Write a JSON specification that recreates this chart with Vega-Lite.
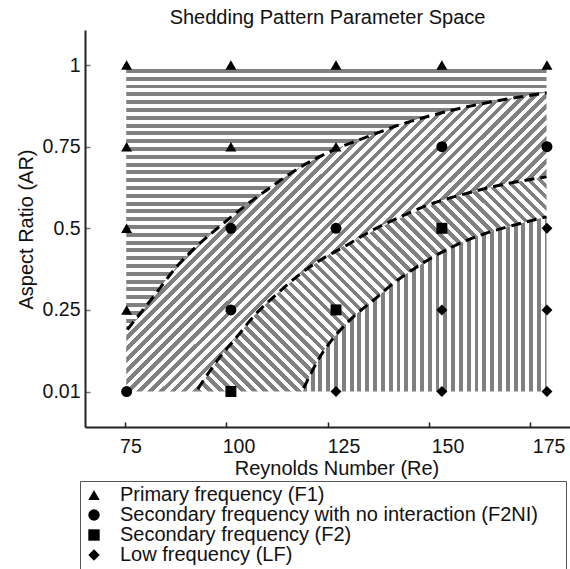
{
"$schema":"https://vega.github.io/schema/vega-lite/v6.json",
"width":485,"height":397,
"autosize":{"type":"none"},
"padding":{"left":85,"top":30,"right":0,"bottom":142},
"background":"white",
"config":{"view":{"stroke":null},"font":"Liberation Sans"},
"title":{"text":"Shedding Pattern Parameter Space","fontSize":20,"fontWeight":"normal","color":"#111","frame":"group","anchor":"middle","offset":2},
"datasets":{
"pts":[
{"Re":75.3,"lvl":4,"pattern":"Primary frequency (F1)"},
{"Re":101.1,"lvl":4,"pattern":"Primary frequency (F1)"},
{"Re":127.1,"lvl":4,"pattern":"Primary frequency (F1)"},
{"Re":153.3,"lvl":4,"pattern":"Primary frequency (F1)"},
{"Re":179.3,"lvl":4,"pattern":"Primary frequency (F1)"},
{"Re":75.3,"lvl":3,"pattern":"Primary frequency (F1)"},
{"Re":101.1,"lvl":3,"pattern":"Primary frequency (F1)"},
{"Re":127.1,"lvl":3,"pattern":"Primary frequency (F1)"},
{"Re":153.3,"lvl":3,"pattern":"Secondary frequency with no interaction (F2NI)"},
{"Re":179.3,"lvl":3,"pattern":"Secondary frequency with no interaction (F2NI)"},
{"Re":75.3,"lvl":2,"pattern":"Primary frequency (F1)"},
{"Re":101.1,"lvl":2,"pattern":"Secondary frequency with no interaction (F2NI)"},
{"Re":127.1,"lvl":2,"pattern":"Secondary frequency with no interaction (F2NI)"},
{"Re":153.3,"lvl":2,"pattern":"Secondary frequency (F2)"},
{"Re":179.3,"lvl":2,"pattern":"Low frequency (LF)"},
{"Re":75.3,"lvl":1,"pattern":"Primary frequency (F1)"},
{"Re":101.1,"lvl":1,"pattern":"Secondary frequency with no interaction (F2NI)"},
{"Re":127.1,"lvl":1,"pattern":"Secondary frequency (F2)"},
{"Re":153.3,"lvl":1,"pattern":"Low frequency (LF)"},
{"Re":179.3,"lvl":1,"pattern":"Low frequency (LF)"},
{"Re":75.3,"lvl":0,"pattern":"Secondary frequency with no interaction (F2NI)"},
{"Re":101.1,"lvl":0,"pattern":"Secondary frequency (F2)"},
{"Re":127.1,"lvl":0,"pattern":"Low frequency (LF)"},
{"Re":153.3,"lvl":0,"pattern":"Low frequency (LF)"},
{"Re":179.3,"lvl":0,"pattern":"Low frequency (LF)"}
],
"bounds":[
{"curve":"c1","Re":75.5,"lvl":0.76},{"curve":"c1","Re":81.9,"lvl":1.16},{"curve":"c1","Re":87.7,"lvl":1.53},{"curve":"c1","Re":93.5,"lvl":1.82},{"curve":"c1","Re":98.5,"lvl":2.03},{"curve":"c1","Re":104.2,"lvl":2.26},{"curve":"c1","Re":110,"lvl":2.47},{"curve":"c1","Re":118.3,"lvl":2.75},{"curve":"c1","Re":126.5,"lvl":2.96},{"curve":"c1","Re":134.8,"lvl":3.12},{"curve":"c1","Re":143,"lvl":3.27},{"curve":"c1","Re":151.3,"lvl":3.39},{"curve":"c1","Re":159.6,"lvl":3.49},{"curve":"c1","Re":167.8,"lvl":3.57},{"curve":"c1","Re":179.2,"lvl":3.66},
{"curve":"c2","Re":92.9,"lvl":0.03},{"curve":"c2","Re":98.5,"lvl":0.43},{"curve":"c2","Re":102.6,"lvl":0.67},{"curve":"c2","Re":106.7,"lvl":0.92},{"curve":"c2","Re":111.7,"lvl":1.16},{"curve":"c2","Re":117.5,"lvl":1.41},{"curve":"c2","Re":123.2,"lvl":1.61},{"curve":"c2","Re":129,"lvl":1.77},{"curve":"c2","Re":134.8,"lvl":1.94},{"curve":"c2","Re":143,"lvl":2.14},{"curve":"c2","Re":151.3,"lvl":2.31},{"curve":"c2","Re":159.6,"lvl":2.43},{"curve":"c2","Re":167.8,"lvl":2.53},{"curve":"c2","Re":179.2,"lvl":2.63},
{"curve":"c3","Re":119.1,"lvl":0.04},{"curve":"c3","Re":123.2,"lvl":0.43},{"curve":"c3","Re":127.4,"lvl":0.71},{"curve":"c3","Re":131.5,"lvl":0.92},{"curve":"c3","Re":136.4,"lvl":1.12},{"curve":"c3","Re":141.4,"lvl":1.33},{"curve":"c3","Re":147.2,"lvl":1.53},{"curve":"c3","Re":156.2,"lvl":1.78},{"curve":"c3","Re":163.7,"lvl":1.93},{"curve":"c3","Re":172,"lvl":2.05},{"curve":"c3","Re":179.2,"lvl":2.14}
],
"regH":[
{"Re":75.2,"lo":0.72,"hi":4},{"Re":81.9,"lo":1.16,"hi":4},{"Re":87.7,"lo":1.53,"hi":4},{"Re":93.5,"lo":1.82,"hi":4},{"Re":98.5,"lo":2.03,"hi":4},{"Re":104.2,"lo":2.26,"hi":4},{"Re":110,"lo":2.47,"hi":4},{"Re":118.3,"lo":2.75,"hi":4},{"Re":126.5,"lo":2.96,"hi":4},{"Re":134.8,"lo":3.12,"hi":4},{"Re":143,"lo":3.27,"hi":4},{"Re":151.3,"lo":3.39,"hi":4},{"Re":159.6,"lo":3.49,"hi":4},{"Re":167.8,"lo":3.57,"hi":4},{"Re":179.2,"lo":3.66,"hi":4}
],
"regD1":[
{"Re":75.2,"lo":0,"hi":0.72},{"Re":81.9,"lo":0,"hi":1.16},{"Re":87.7,"lo":0,"hi":1.53},{"Re":92.7,"lo":0,"hi":1.78},{"Re":98.5,"lo":0.43,"hi":2.03},{"Re":104.2,"lo":0.77,"hi":2.26},{"Re":110,"lo":1.08,"hi":2.47},{"Re":118.3,"lo":1.44,"hi":2.75},{"Re":126.5,"lo":1.7,"hi":2.96},{"Re":134.8,"lo":1.94,"hi":3.12},{"Re":143,"lo":2.14,"hi":3.27},{"Re":151.3,"lo":2.31,"hi":3.39},{"Re":159.6,"lo":2.43,"hi":3.49},{"Re":167.8,"lo":2.53,"hi":3.57},{"Re":179.2,"lo":2.63,"hi":3.66}
],
"regD2":[
{"Re":92.7,"lo":0,"hi":0},{"Re":98.5,"lo":0,"hi":0.43},{"Re":102.6,"lo":0,"hi":0.67},{"Re":106.7,"lo":0,"hi":0.92},{"Re":111.7,"lo":0,"hi":1.16},{"Re":118.9,"lo":0,"hi":1.46},{"Re":123.2,"lo":0.43,"hi":1.61},{"Re":127.4,"lo":0.71,"hi":1.74},{"Re":131.5,"lo":0.92,"hi":1.84},{"Re":136.4,"lo":1.12,"hi":1.97},{"Re":141.4,"lo":1.33,"hi":2.09},{"Re":147.2,"lo":1.53,"hi":2.21},{"Re":156.2,"lo":1.78,"hi":2.38},{"Re":163.7,"lo":1.93,"hi":2.48},{"Re":172,"lo":2.05,"hi":2.57},{"Re":179.2,"lo":2.14,"hi":2.63}
],
"regV":[
{"Re":118.9,"lo":0,"hi":0},{"Re":123.2,"lo":0,"hi":0.43},{"Re":127.4,"lo":0,"hi":0.71},{"Re":131.5,"lo":0,"hi":0.92},{"Re":136.4,"lo":0,"hi":1.12},{"Re":141.4,"lo":0,"hi":1.33},{"Re":147.2,"lo":0,"hi":1.53},{"Re":156.2,"lo":0,"hi":1.78},{"Re":163.7,"lo":0,"hi":1.93},{"Re":172,"lo":0,"hi":2.05},{"Re":179.2,"lo":0,"hi":2.14}
]
},
"layer":[
{"data":{"name":"regH"},
"mark":{"type":"area","orient":"vertical","interpolate":"monotone","fill":{"gradient":"linear","x1":0,"y1":0,"x2":0,"y2":2.915,"stops":[
{"offset":0,"color":"white"},{"offset":0.005,"color":"white"},{"offset":0.005,"color":"gray"},{"offset":0.01,"color":"gray"},
{"offset":0.01,"color":"white"},{"offset":0.015,"color":"white"},{"offset":0.015,"color":"gray"},{"offset":0.02,"color":"gray"},
{"offset":0.02,"color":"white"},{"offset":0.025,"color":"white"},{"offset":0.025,"color":"gray"},{"offset":0.03,"color":"gray"},
{"offset":0.03,"color":"white"},{"offset":0.035,"color":"white"},{"offset":0.035,"color":"gray"},{"offset":0.04,"color":"gray"},
{"offset":0.04,"color":"white"},{"offset":0.045,"color":"white"},{"offset":0.045,"color":"gray"},{"offset":0.05,"color":"gray"},
{"offset":0.05,"color":"white"},{"offset":0.055,"color":"white"},{"offset":0.055,"color":"gray"},{"offset":0.06,"color":"gray"},
{"offset":0.06,"color":"white"},{"offset":0.065,"color":"white"},{"offset":0.065,"color":"gray"},{"offset":0.07,"color":"gray"},
{"offset":0.07,"color":"white"},{"offset":0.075,"color":"white"},{"offset":0.075,"color":"gray"},{"offset":0.08,"color":"gray"},
{"offset":0.08,"color":"white"},{"offset":0.085,"color":"white"},{"offset":0.085,"color":"gray"},{"offset":0.09,"color":"gray"},
{"offset":0.09,"color":"white"},{"offset":0.095,"color":"white"},{"offset":0.095,"color":"gray"},{"offset":0.1,"color":"gray"},
{"offset":0.1,"color":"white"},{"offset":0.105,"color":"white"},{"offset":0.105,"color":"gray"},{"offset":0.11,"color":"gray"},
{"offset":0.11,"color":"white"},{"offset":0.115,"color":"white"},{"offset":0.115,"color":"gray"},{"offset":0.12,"color":"gray"},
{"offset":0.12,"color":"white"},{"offset":0.125,"color":"white"},{"offset":0.125,"color":"gray"},{"offset":0.13,"color":"gray"},
{"offset":0.13,"color":"white"},{"offset":0.135,"color":"white"},{"offset":0.135,"color":"gray"},{"offset":0.14,"color":"gray"},
{"offset":0.14,"color":"white"},{"offset":0.145,"color":"white"},{"offset":0.145,"color":"gray"},{"offset":0.15,"color":"gray"},
{"offset":0.15,"color":"white"},{"offset":0.155,"color":"white"},{"offset":0.155,"color":"gray"},{"offset":0.16,"color":"gray"},
{"offset":0.16,"color":"white"},{"offset":0.165,"color":"white"},{"offset":0.165,"color":"gray"},{"offset":0.17,"color":"gray"},
{"offset":0.17,"color":"white"},{"offset":0.175,"color":"white"},{"offset":0.175,"color":"gray"},{"offset":0.18,"color":"gray"},
{"offset":0.18,"color":"white"},{"offset":0.185,"color":"white"},{"offset":0.185,"color":"gray"},{"offset":0.19,"color":"gray"},
{"offset":0.19,"color":"white"},{"offset":0.195,"color":"white"},{"offset":0.195,"color":"gray"},{"offset":0.2,"color":"gray"},
{"offset":0.2,"color":"white"},{"offset":0.205,"color":"white"},{"offset":0.205,"color":"gray"},{"offset":0.21,"color":"gray"},
{"offset":0.21,"color":"white"},{"offset":0.215,"color":"white"},{"offset":0.215,"color":"gray"},{"offset":0.22,"color":"gray"},
{"offset":0.22,"color":"white"},{"offset":0.225,"color":"white"},{"offset":0.225,"color":"gray"},{"offset":0.23,"color":"gray"},
{"offset":0.23,"color":"white"},{"offset":0.235,"color":"white"},{"offset":0.235,"color":"gray"},{"offset":0.24,"color":"gray"},
{"offset":0.24,"color":"white"},{"offset":0.245,"color":"white"},{"offset":0.245,"color":"gray"},{"offset":0.25,"color":"gray"},
{"offset":0.25,"color":"white"},{"offset":0.255,"color":"white"},{"offset":0.255,"color":"gray"},{"offset":0.26,"color":"gray"},
{"offset":0.26,"color":"white"},{"offset":0.265,"color":"white"},{"offset":0.265,"color":"gray"},{"offset":0.27,"color":"gray"},
{"offset":0.27,"color":"white"},{"offset":0.275,"color":"white"},{"offset":0.275,"color":"gray"},{"offset":0.28,"color":"gray"},
{"offset":0.28,"color":"white"},{"offset":0.285,"color":"white"},{"offset":0.285,"color":"gray"},{"offset":0.29,"color":"gray"},
{"offset":0.29,"color":"white"},{"offset":0.295,"color":"white"},{"offset":0.295,"color":"gray"},{"offset":0.3,"color":"gray"},
{"offset":0.3,"color":"white"},{"offset":0.305,"color":"white"},{"offset":0.305,"color":"gray"},{"offset":0.31,"color":"gray"},
{"offset":0.31,"color":"white"},{"offset":0.315,"color":"white"},{"offset":0.315,"color":"gray"},{"offset":0.32,"color":"gray"},
{"offset":0.32,"color":"white"},{"offset":0.325,"color":"white"},{"offset":0.325,"color":"gray"},{"offset":0.33,"color":"gray"},
{"offset":0.33,"color":"white"},{"offset":0.335,"color":"white"},{"offset":0.335,"color":"gray"},{"offset":0.34,"color":"gray"},
{"offset":0.34,"color":"white"},{"offset":0.345,"color":"white"},{"offset":0.345,"color":"gray"},{"offset":0.35,"color":"gray"}
]}},
"encoding":{"x":{"field":"Re","type":"quantitative","scale":{"domain":[65,185],"nice":false,"zero":false},"title":"Reynolds Number (Re)"},"y":{"field":"lo","type":"quantitative","scale":{"domain":[-0.435,4.43],"nice":false,"zero":false},"title":"Aspect Ratio (AR)"},"y2":{"field":"hi"}}},
{"data":{"name":"regD1"},
"mark":{"type":"area","orient":"vertical","interpolate":"monotone","fill":{"gradient":"linear","x1":0,"y1":0,"x2":1.7443,"y2":1.2406,"stops":[
{"offset":0,"color":"gray"},{"offset":0.005,"color":"gray"},{"offset":0.005,"color":"white"},{"offset":0.01,"color":"white"},
{"offset":0.01,"color":"gray"},{"offset":0.015,"color":"gray"},{"offset":0.015,"color":"white"},{"offset":0.02,"color":"white"},
{"offset":0.02,"color":"gray"},{"offset":0.025,"color":"gray"},{"offset":0.025,"color":"white"},{"offset":0.03,"color":"white"},
{"offset":0.03,"color":"gray"},{"offset":0.035,"color":"gray"},{"offset":0.035,"color":"white"},{"offset":0.04,"color":"white"},
{"offset":0.04,"color":"gray"},{"offset":0.045,"color":"gray"},{"offset":0.045,"color":"white"},{"offset":0.05,"color":"white"},
{"offset":0.05,"color":"gray"},{"offset":0.055,"color":"gray"},{"offset":0.055,"color":"white"},{"offset":0.06,"color":"white"},
{"offset":0.06,"color":"gray"},{"offset":0.065,"color":"gray"},{"offset":0.065,"color":"white"},{"offset":0.07,"color":"white"},
{"offset":0.07,"color":"gray"},{"offset":0.075,"color":"gray"},{"offset":0.075,"color":"white"},{"offset":0.08,"color":"white"},
{"offset":0.08,"color":"gray"},{"offset":0.085,"color":"gray"},{"offset":0.085,"color":"white"},{"offset":0.09,"color":"white"},
{"offset":0.09,"color":"gray"},{"offset":0.095,"color":"gray"},{"offset":0.095,"color":"white"},{"offset":0.1,"color":"white"},
{"offset":0.1,"color":"gray"},{"offset":0.105,"color":"gray"},{"offset":0.105,"color":"white"},{"offset":0.11,"color":"white"},
{"offset":0.11,"color":"gray"},{"offset":0.115,"color":"gray"},{"offset":0.115,"color":"white"},{"offset":0.12,"color":"white"},
{"offset":0.12,"color":"gray"},{"offset":0.125,"color":"gray"},{"offset":0.125,"color":"white"},{"offset":0.13,"color":"white"},
{"offset":0.13,"color":"gray"},{"offset":0.135,"color":"gray"},{"offset":0.135,"color":"white"},{"offset":0.14,"color":"white"},
{"offset":0.14,"color":"gray"},{"offset":0.145,"color":"gray"},{"offset":0.145,"color":"white"},{"offset":0.15,"color":"white"},
{"offset":0.15,"color":"gray"},{"offset":0.155,"color":"gray"},{"offset":0.155,"color":"white"},{"offset":0.16,"color":"white"},
{"offset":0.16,"color":"gray"},{"offset":0.165,"color":"gray"},{"offset":0.165,"color":"white"},{"offset":0.17,"color":"white"},
{"offset":0.17,"color":"gray"},{"offset":0.175,"color":"gray"},{"offset":0.175,"color":"white"},{"offset":0.18,"color":"white"},
{"offset":0.18,"color":"gray"},{"offset":0.185,"color":"gray"},{"offset":0.185,"color":"white"},{"offset":0.19,"color":"white"},
{"offset":0.19,"color":"gray"},{"offset":0.195,"color":"gray"},{"offset":0.195,"color":"white"},{"offset":0.2,"color":"white"},
{"offset":0.2,"color":"gray"},{"offset":0.205,"color":"gray"},{"offset":0.205,"color":"white"},{"offset":0.21,"color":"white"},
{"offset":0.21,"color":"gray"},{"offset":0.215,"color":"gray"},{"offset":0.215,"color":"white"},{"offset":0.22,"color":"white"},
{"offset":0.22,"color":"gray"},{"offset":0.225,"color":"gray"},{"offset":0.225,"color":"white"},{"offset":0.23,"color":"white"},
{"offset":0.23,"color":"gray"},{"offset":0.235,"color":"gray"},{"offset":0.235,"color":"white"},{"offset":0.24,"color":"white"},
{"offset":0.24,"color":"gray"},{"offset":0.245,"color":"gray"},{"offset":0.245,"color":"white"},{"offset":0.25,"color":"white"},
{"offset":0.25,"color":"gray"},{"offset":0.255,"color":"gray"},{"offset":0.255,"color":"white"},{"offset":0.26,"color":"white"},
{"offset":0.26,"color":"gray"},{"offset":0.265,"color":"gray"},{"offset":0.265,"color":"white"},{"offset":0.27,"color":"white"},
{"offset":0.27,"color":"gray"},{"offset":0.275,"color":"gray"},{"offset":0.275,"color":"white"},{"offset":0.28,"color":"white"},
{"offset":0.28,"color":"gray"},{"offset":0.285,"color":"gray"},{"offset":0.285,"color":"white"},{"offset":0.29,"color":"white"},
{"offset":0.29,"color":"gray"},{"offset":0.295,"color":"gray"},{"offset":0.295,"color":"white"},{"offset":0.3,"color":"white"},
{"offset":0.3,"color":"gray"},{"offset":0.305,"color":"gray"},{"offset":0.305,"color":"white"},{"offset":0.31,"color":"white"},
{"offset":0.31,"color":"gray"},{"offset":0.315,"color":"gray"},{"offset":0.315,"color":"white"},{"offset":0.32,"color":"white"},
{"offset":0.32,"color":"gray"},{"offset":0.325,"color":"gray"},{"offset":0.325,"color":"white"},{"offset":0.33,"color":"white"},
{"offset":0.33,"color":"gray"},{"offset":0.335,"color":"gray"},{"offset":0.335,"color":"white"},{"offset":0.34,"color":"white"},
{"offset":0.34,"color":"gray"},{"offset":0.345,"color":"gray"},{"offset":0.345,"color":"white"},{"offset":0.35,"color":"white"},
{"offset":0.35,"color":"gray"},{"offset":0.355,"color":"gray"},{"offset":0.355,"color":"white"},{"offset":0.36,"color":"white"},
{"offset":0.36,"color":"gray"},{"offset":0.365,"color":"gray"},{"offset":0.365,"color":"white"},{"offset":0.37,"color":"white"},
{"offset":0.37,"color":"gray"},{"offset":0.375,"color":"gray"},{"offset":0.375,"color":"white"},{"offset":0.38,"color":"white"},
{"offset":0.38,"color":"gray"},{"offset":0.385,"color":"gray"},{"offset":0.385,"color":"white"},{"offset":0.39,"color":"white"},
{"offset":0.39,"color":"gray"},{"offset":0.395,"color":"gray"},{"offset":0.395,"color":"white"},{"offset":0.4,"color":"white"},
{"offset":0.4,"color":"gray"},{"offset":0.405,"color":"gray"},{"offset":0.405,"color":"white"},{"offset":0.41,"color":"white"},
{"offset":0.41,"color":"gray"},{"offset":0.415,"color":"gray"},{"offset":0.415,"color":"white"},{"offset":0.42,"color":"white"},
{"offset":0.42,"color":"gray"},{"offset":0.425,"color":"gray"},{"offset":0.425,"color":"white"},{"offset":0.43,"color":"white"},
{"offset":0.43,"color":"gray"},{"offset":0.435,"color":"gray"},{"offset":0.435,"color":"white"},{"offset":0.44,"color":"white"},
{"offset":0.44,"color":"gray"},{"offset":0.445,"color":"gray"},{"offset":0.445,"color":"white"},{"offset":0.45,"color":"white"},
{"offset":0.45,"color":"gray"},{"offset":0.455,"color":"gray"},{"offset":0.455,"color":"white"},{"offset":0.46,"color":"white"},
{"offset":0.46,"color":"gray"},{"offset":0.465,"color":"gray"},{"offset":0.465,"color":"white"},{"offset":0.47,"color":"white"},
{"offset":0.47,"color":"gray"},{"offset":0.475,"color":"gray"},{"offset":0.475,"color":"white"},{"offset":0.48,"color":"white"},
{"offset":0.48,"color":"gray"},{"offset":0.485,"color":"gray"},{"offset":0.485,"color":"white"},{"offset":0.49,"color":"white"},
{"offset":0.49,"color":"gray"},{"offset":0.495,"color":"gray"},{"offset":0.495,"color":"white"},{"offset":0.5,"color":"white"},
{"offset":0.5,"color":"gray"},{"offset":0.505,"color":"gray"},{"offset":0.505,"color":"white"},{"offset":0.51,"color":"white"},
{"offset":0.51,"color":"gray"},{"offset":0.515,"color":"gray"},{"offset":0.515,"color":"white"},{"offset":0.52,"color":"white"},
{"offset":0.52,"color":"gray"},{"offset":0.525,"color":"gray"},{"offset":0.525,"color":"white"},{"offset":0.53,"color":"white"},
{"offset":0.53,"color":"gray"},{"offset":0.535,"color":"gray"},{"offset":0.535,"color":"white"},{"offset":0.54,"color":"white"},
{"offset":0.54,"color":"gray"},{"offset":0.545,"color":"gray"},{"offset":0.545,"color":"white"},{"offset":0.55,"color":"white"},
{"offset":0.55,"color":"gray"},{"offset":0.555,"color":"gray"},{"offset":0.555,"color":"white"},{"offset":0.56,"color":"white"},
{"offset":0.56,"color":"gray"},{"offset":0.565,"color":"gray"},{"offset":0.565,"color":"white"},{"offset":0.57,"color":"white"},
{"offset":0.57,"color":"gray"},{"offset":0.575,"color":"gray"},{"offset":0.575,"color":"white"},{"offset":0.58,"color":"white"},
{"offset":0.58,"color":"gray"},{"offset":0.585,"color":"gray"},{"offset":0.585,"color":"white"},{"offset":0.59,"color":"white"},
{"offset":0.59,"color":"gray"},{"offset":0.595,"color":"gray"},{"offset":0.595,"color":"white"},{"offset":0.6,"color":"white"},
{"offset":0.6,"color":"gray"},{"offset":0.605,"color":"gray"},{"offset":0.605,"color":"white"},{"offset":0.61,"color":"white"},
{"offset":0.61,"color":"gray"},{"offset":0.615,"color":"gray"},{"offset":0.615,"color":"white"},{"offset":0.62,"color":"white"},
{"offset":0.62,"color":"gray"},{"offset":0.625,"color":"gray"},{"offset":0.625,"color":"white"},{"offset":0.63,"color":"white"},
{"offset":0.63,"color":"gray"},{"offset":0.635,"color":"gray"},{"offset":0.635,"color":"white"},{"offset":0.64,"color":"white"},
{"offset":0.64,"color":"gray"},{"offset":0.645,"color":"gray"},{"offset":0.645,"color":"white"},{"offset":0.65,"color":"white"},
{"offset":0.65,"color":"gray"},{"offset":0.655,"color":"gray"},{"offset":0.655,"color":"white"},{"offset":0.66,"color":"white"}
]}},
"encoding":{"x":{"field":"Re","type":"quantitative","scale":{"domain":[65,185],"nice":false,"zero":false},"title":"Reynolds Number (Re)"},"y":{"field":"lo","type":"quantitative","scale":{"domain":[-0.435,4.43],"nice":false,"zero":false},"title":"Aspect Ratio (AR)"},"y2":{"field":"hi"}}},
{"data":{"name":"regD2"},
"mark":{"type":"area","orient":"vertical","interpolate":"monotone","fill":{"gradient":"linear","x1":0,"y1":1,"x2":2.2924,"y2":-0.4085,"stops":[
{"offset":0,"color":"gray"},{"offset":0.005,"color":"gray"},{"offset":0.005,"color":"white"},{"offset":0.01,"color":"white"},
{"offset":0.01,"color":"gray"},{"offset":0.015,"color":"gray"},{"offset":0.015,"color":"white"},{"offset":0.02,"color":"white"},
{"offset":0.02,"color":"gray"},{"offset":0.025,"color":"gray"},{"offset":0.025,"color":"white"},{"offset":0.03,"color":"white"},
{"offset":0.03,"color":"gray"},{"offset":0.035,"color":"gray"},{"offset":0.035,"color":"white"},{"offset":0.04,"color":"white"},
{"offset":0.04,"color":"gray"},{"offset":0.045,"color":"gray"},{"offset":0.045,"color":"white"},{"offset":0.05,"color":"white"},
{"offset":0.05,"color":"gray"},{"offset":0.055,"color":"gray"},{"offset":0.055,"color":"white"},{"offset":0.06,"color":"white"},
{"offset":0.06,"color":"gray"},{"offset":0.065,"color":"gray"},{"offset":0.065,"color":"white"},{"offset":0.07,"color":"white"},
{"offset":0.07,"color":"gray"},{"offset":0.075,"color":"gray"},{"offset":0.075,"color":"white"},{"offset":0.08,"color":"white"},
{"offset":0.08,"color":"gray"},{"offset":0.085,"color":"gray"},{"offset":0.085,"color":"white"},{"offset":0.09,"color":"white"},
{"offset":0.09,"color":"gray"},{"offset":0.095,"color":"gray"},{"offset":0.095,"color":"white"},{"offset":0.1,"color":"white"},
{"offset":0.1,"color":"gray"},{"offset":0.105,"color":"gray"},{"offset":0.105,"color":"white"},{"offset":0.11,"color":"white"},
{"offset":0.11,"color":"gray"},{"offset":0.115,"color":"gray"},{"offset":0.115,"color":"white"},{"offset":0.12,"color":"white"},
{"offset":0.12,"color":"gray"},{"offset":0.125,"color":"gray"},{"offset":0.125,"color":"white"},{"offset":0.13,"color":"white"},
{"offset":0.13,"color":"gray"},{"offset":0.135,"color":"gray"},{"offset":0.135,"color":"white"},{"offset":0.14,"color":"white"},
{"offset":0.14,"color":"gray"},{"offset":0.145,"color":"gray"},{"offset":0.145,"color":"white"},{"offset":0.15,"color":"white"},
{"offset":0.15,"color":"gray"},{"offset":0.155,"color":"gray"},{"offset":0.155,"color":"white"},{"offset":0.16,"color":"white"},
{"offset":0.16,"color":"gray"},{"offset":0.165,"color":"gray"},{"offset":0.165,"color":"white"},{"offset":0.17,"color":"white"},
{"offset":0.17,"color":"gray"},{"offset":0.175,"color":"gray"},{"offset":0.175,"color":"white"},{"offset":0.18,"color":"white"},
{"offset":0.18,"color":"gray"},{"offset":0.185,"color":"gray"},{"offset":0.185,"color":"white"},{"offset":0.19,"color":"white"},
{"offset":0.19,"color":"gray"},{"offset":0.195,"color":"gray"},{"offset":0.195,"color":"white"},{"offset":0.2,"color":"white"},
{"offset":0.2,"color":"gray"},{"offset":0.205,"color":"gray"},{"offset":0.205,"color":"white"},{"offset":0.21,"color":"white"},
{"offset":0.21,"color":"gray"},{"offset":0.215,"color":"gray"},{"offset":0.215,"color":"white"},{"offset":0.22,"color":"white"},
{"offset":0.22,"color":"gray"},{"offset":0.225,"color":"gray"},{"offset":0.225,"color":"white"},{"offset":0.23,"color":"white"},
{"offset":0.23,"color":"gray"},{"offset":0.235,"color":"gray"},{"offset":0.235,"color":"white"},{"offset":0.24,"color":"white"},
{"offset":0.24,"color":"gray"},{"offset":0.245,"color":"gray"},{"offset":0.245,"color":"white"},{"offset":0.25,"color":"white"},
{"offset":0.25,"color":"gray"},{"offset":0.255,"color":"gray"},{"offset":0.255,"color":"white"},{"offset":0.26,"color":"white"},
{"offset":0.26,"color":"gray"},{"offset":0.265,"color":"gray"},{"offset":0.265,"color":"white"},{"offset":0.27,"color":"white"},
{"offset":0.27,"color":"gray"},{"offset":0.275,"color":"gray"},{"offset":0.275,"color":"white"},{"offset":0.28,"color":"white"},
{"offset":0.28,"color":"gray"},{"offset":0.285,"color":"gray"},{"offset":0.285,"color":"white"},{"offset":0.29,"color":"white"},
{"offset":0.29,"color":"gray"},{"offset":0.295,"color":"gray"},{"offset":0.295,"color":"white"},{"offset":0.3,"color":"white"},
{"offset":0.3,"color":"gray"},{"offset":0.305,"color":"gray"},{"offset":0.305,"color":"white"},{"offset":0.31,"color":"white"},
{"offset":0.31,"color":"gray"},{"offset":0.315,"color":"gray"},{"offset":0.315,"color":"white"},{"offset":0.32,"color":"white"},
{"offset":0.32,"color":"gray"},{"offset":0.325,"color":"gray"},{"offset":0.325,"color":"white"},{"offset":0.33,"color":"white"},
{"offset":0.33,"color":"gray"},{"offset":0.335,"color":"gray"},{"offset":0.335,"color":"white"},{"offset":0.34,"color":"white"},
{"offset":0.34,"color":"gray"},{"offset":0.345,"color":"gray"},{"offset":0.345,"color":"white"},{"offset":0.35,"color":"white"},
{"offset":0.35,"color":"gray"},{"offset":0.355,"color":"gray"},{"offset":0.355,"color":"white"},{"offset":0.36,"color":"white"},
{"offset":0.36,"color":"gray"},{"offset":0.365,"color":"gray"},{"offset":0.365,"color":"white"},{"offset":0.37,"color":"white"},
{"offset":0.37,"color":"gray"},{"offset":0.375,"color":"gray"},{"offset":0.375,"color":"white"},{"offset":0.38,"color":"white"},
{"offset":0.38,"color":"gray"},{"offset":0.385,"color":"gray"},{"offset":0.385,"color":"white"},{"offset":0.39,"color":"white"},
{"offset":0.39,"color":"gray"},{"offset":0.395,"color":"gray"},{"offset":0.395,"color":"white"},{"offset":0.4,"color":"white"},
{"offset":0.4,"color":"gray"},{"offset":0.405,"color":"gray"},{"offset":0.405,"color":"white"},{"offset":0.41,"color":"white"},
{"offset":0.41,"color":"gray"},{"offset":0.415,"color":"gray"},{"offset":0.415,"color":"white"},{"offset":0.42,"color":"white"},
{"offset":0.42,"color":"gray"},{"offset":0.425,"color":"gray"},{"offset":0.425,"color":"white"},{"offset":0.43,"color":"white"},
{"offset":0.43,"color":"gray"},{"offset":0.435,"color":"gray"},{"offset":0.435,"color":"white"},{"offset":0.44,"color":"white"},
{"offset":0.44,"color":"gray"},{"offset":0.445,"color":"gray"},{"offset":0.445,"color":"white"},{"offset":0.45,"color":"white"},
{"offset":0.45,"color":"gray"},{"offset":0.455,"color":"gray"},{"offset":0.455,"color":"white"},{"offset":0.46,"color":"white"},
{"offset":0.46,"color":"gray"},{"offset":0.465,"color":"gray"},{"offset":0.465,"color":"white"},{"offset":0.47,"color":"white"},
{"offset":0.47,"color":"gray"},{"offset":0.475,"color":"gray"},{"offset":0.475,"color":"white"},{"offset":0.48,"color":"white"},
{"offset":0.48,"color":"gray"},{"offset":0.485,"color":"gray"},{"offset":0.485,"color":"white"},{"offset":0.49,"color":"white"},
{"offset":0.49,"color":"gray"},{"offset":0.495,"color":"gray"},{"offset":0.495,"color":"white"},{"offset":0.5,"color":"white"},
{"offset":0.5,"color":"gray"},{"offset":0.505,"color":"gray"},{"offset":0.505,"color":"white"},{"offset":0.51,"color":"white"},
{"offset":0.51,"color":"gray"},{"offset":0.515,"color":"gray"},{"offset":0.515,"color":"white"},{"offset":0.52,"color":"white"}
]}},
"encoding":{"x":{"field":"Re","type":"quantitative","scale":{"domain":[65,185],"nice":false,"zero":false},"title":"Reynolds Number (Re)"},"y":{"field":"lo","type":"quantitative","scale":{"domain":[-0.435,4.43],"nice":false,"zero":false},"title":"Aspect Ratio (AR)"},"y2":{"field":"hi"}}},
{"data":{"name":"regV"},
"mark":{"type":"area","orient":"vertical","interpolate":"monotone","fill":{"gradient":"linear","x1":0,"y1":0,"x2":3.203,"y2":0,"stops":[
{"offset":0,"color":"gray"},{"offset":0.005,"color":"gray"},{"offset":0.005,"color":"white"},{"offset":0.01,"color":"white"},
{"offset":0.01,"color":"gray"},{"offset":0.015,"color":"gray"},{"offset":0.015,"color":"white"},{"offset":0.02,"color":"white"},
{"offset":0.02,"color":"gray"},{"offset":0.025,"color":"gray"},{"offset":0.025,"color":"white"},{"offset":0.03,"color":"white"},
{"offset":0.03,"color":"gray"},{"offset":0.035,"color":"gray"},{"offset":0.035,"color":"white"},{"offset":0.04,"color":"white"},
{"offset":0.04,"color":"gray"},{"offset":0.045,"color":"gray"},{"offset":0.045,"color":"white"},{"offset":0.05,"color":"white"},
{"offset":0.05,"color":"gray"},{"offset":0.055,"color":"gray"},{"offset":0.055,"color":"white"},{"offset":0.06,"color":"white"},
{"offset":0.06,"color":"gray"},{"offset":0.065,"color":"gray"},{"offset":0.065,"color":"white"},{"offset":0.07,"color":"white"},
{"offset":0.07,"color":"gray"},{"offset":0.075,"color":"gray"},{"offset":0.075,"color":"white"},{"offset":0.08,"color":"white"},
{"offset":0.08,"color":"gray"},{"offset":0.085,"color":"gray"},{"offset":0.085,"color":"white"},{"offset":0.09,"color":"white"},
{"offset":0.09,"color":"gray"},{"offset":0.095,"color":"gray"},{"offset":0.095,"color":"white"},{"offset":0.1,"color":"white"},
{"offset":0.1,"color":"gray"},{"offset":0.105,"color":"gray"},{"offset":0.105,"color":"white"},{"offset":0.11,"color":"white"},
{"offset":0.11,"color":"gray"},{"offset":0.115,"color":"gray"},{"offset":0.115,"color":"white"},{"offset":0.12,"color":"white"},
{"offset":0.12,"color":"gray"},{"offset":0.125,"color":"gray"},{"offset":0.125,"color":"white"},{"offset":0.13,"color":"white"},
{"offset":0.13,"color":"gray"},{"offset":0.135,"color":"gray"},{"offset":0.135,"color":"white"},{"offset":0.14,"color":"white"},
{"offset":0.14,"color":"gray"},{"offset":0.145,"color":"gray"},{"offset":0.145,"color":"white"},{"offset":0.15,"color":"white"},
{"offset":0.15,"color":"gray"},{"offset":0.155,"color":"gray"},{"offset":0.155,"color":"white"},{"offset":0.16,"color":"white"},
{"offset":0.16,"color":"gray"},{"offset":0.165,"color":"gray"},{"offset":0.165,"color":"white"},{"offset":0.17,"color":"white"},
{"offset":0.17,"color":"gray"},{"offset":0.175,"color":"gray"},{"offset":0.175,"color":"white"},{"offset":0.18,"color":"white"},
{"offset":0.18,"color":"gray"},{"offset":0.185,"color":"gray"},{"offset":0.185,"color":"white"},{"offset":0.19,"color":"white"},
{"offset":0.19,"color":"gray"},{"offset":0.195,"color":"gray"},{"offset":0.195,"color":"white"},{"offset":0.2,"color":"white"},
{"offset":0.2,"color":"gray"},{"offset":0.205,"color":"gray"},{"offset":0.205,"color":"white"},{"offset":0.21,"color":"white"},
{"offset":0.21,"color":"gray"},{"offset":0.215,"color":"gray"},{"offset":0.215,"color":"white"},{"offset":0.22,"color":"white"},
{"offset":0.22,"color":"gray"},{"offset":0.225,"color":"gray"},{"offset":0.225,"color":"white"},{"offset":0.23,"color":"white"},
{"offset":0.23,"color":"gray"},{"offset":0.235,"color":"gray"},{"offset":0.235,"color":"white"},{"offset":0.24,"color":"white"},
{"offset":0.24,"color":"gray"},{"offset":0.245,"color":"gray"},{"offset":0.245,"color":"white"},{"offset":0.25,"color":"white"},
{"offset":0.25,"color":"gray"},{"offset":0.255,"color":"gray"},{"offset":0.255,"color":"white"},{"offset":0.26,"color":"white"},
{"offset":0.26,"color":"gray"},{"offset":0.265,"color":"gray"},{"offset":0.265,"color":"white"},{"offset":0.27,"color":"white"},
{"offset":0.27,"color":"gray"},{"offset":0.275,"color":"gray"},{"offset":0.275,"color":"white"},{"offset":0.28,"color":"white"},
{"offset":0.28,"color":"gray"},{"offset":0.285,"color":"gray"},{"offset":0.285,"color":"white"},{"offset":0.29,"color":"white"},
{"offset":0.29,"color":"gray"},{"offset":0.295,"color":"gray"},{"offset":0.295,"color":"white"},{"offset":0.3,"color":"white"},
{"offset":0.3,"color":"gray"},{"offset":0.305,"color":"gray"},{"offset":0.305,"color":"white"},{"offset":0.31,"color":"white"},
{"offset":0.31,"color":"gray"},{"offset":0.315,"color":"gray"},{"offset":0.315,"color":"white"},{"offset":0.32,"color":"white"}
]}},
"encoding":{"x":{"field":"Re","type":"quantitative","scale":{"domain":[65,185],"nice":false,"zero":false},"title":"Reynolds Number (Re)"},"y":{"field":"lo","type":"quantitative","scale":{"domain":[-0.435,4.43],"nice":false,"zero":false},"title":"Aspect Ratio (AR)"},"y2":{"field":"hi"}}},
{"data":{"name":"bounds"},
"mark":{"type":"line","color":"black","strokeWidth":3,"strokeDash":[10,6],"interpolate":"monotone"},
"encoding":{"x":{"field":"Re","type":"quantitative","scale":{"domain":[65,185],"nice":false,"zero":false},"title":"Reynolds Number (Re)"},"y":{"field":"lvl","type":"quantitative","scale":{"domain":[-0.435,4.43],"nice":false,"zero":false},"title":"Aspect Ratio (AR)"},"detail":{"field":"curve","type":"nominal"}}},
{"data":{"name":"pts"},
"mark":{"type":"point","filled":true,"color":"black","opacity":1,"size":120},
"encoding":{
"x":{"field":"Re","type":"quantitative","scale":{"domain":[65,185],"nice":false,"zero":false},"title":"Reynolds Number (Re)",
"axis":{"values":[75,100,125,150,175],"grid":false,"domainColor":"#222","domainWidth":2,"tickColor":"#222","tickWidth":1.5,"tickSize":-5,"labelFontSize":19.5,"labelColor":"#111","labelPadding":15,"labelOffset":{"condition":[{"test":"datum.value==75","value":5},{"test":"datum.value==100","value":12},{"test":"datum.value==125","value":16}],"value":19},"titleFontSize":20,"titleFontWeight":"normal","titleColor":"#111","titleX":251.5,"titleY":31,"titleBaseline":"top"}},
"y":{"field":"lvl","type":"quantitative","scale":{"domain":[-0.435,4.43],"nice":false,"zero":false},"title":"Aspect Ratio (AR)",
"axis":{"values":[0,1,2,3,4],"labelExpr":"['0.01','0.25','0.5','0.75','1'][datum.value]","grid":false,"domainColor":"#222","domainWidth":2,"tickColor":"#777","tickWidth":1.5,"tickSize":-5,"labelFontSize":19.5,"labelColor":"#111","labelPadding":10,"titleFontSize":20,"titleFontWeight":"normal","titleColor":"#111","titleX":-53,"titleY":199,"titleBaseline":"alphabetic","titleAngle":-90}},
"shape":{"field":"pattern","type":"nominal","scale":{"domain":["Primary frequency (F1)","Secondary frequency with no interaction (F2NI)","Secondary frequency (F2)","Low frequency (LF)"],"range":["triangle-up","circle","square","diamond"]},
"legend":{"orient":"none","legendX":-5,"legendY":451,"title":"M","titleOrient":"right","titleOpacity":0,"titleFontSize":18,"titlePadding":9,"labelFontSize":20,"labelColor":"#111","labelLimit":600,"labelOffset":16,"symbolSize":130,"symbolFillColor":"black","symbolStrokeColor":"black","strokeColor":"#555","fillColor":"white","padding":4,"rowPadding":0}}
}}
]
}
